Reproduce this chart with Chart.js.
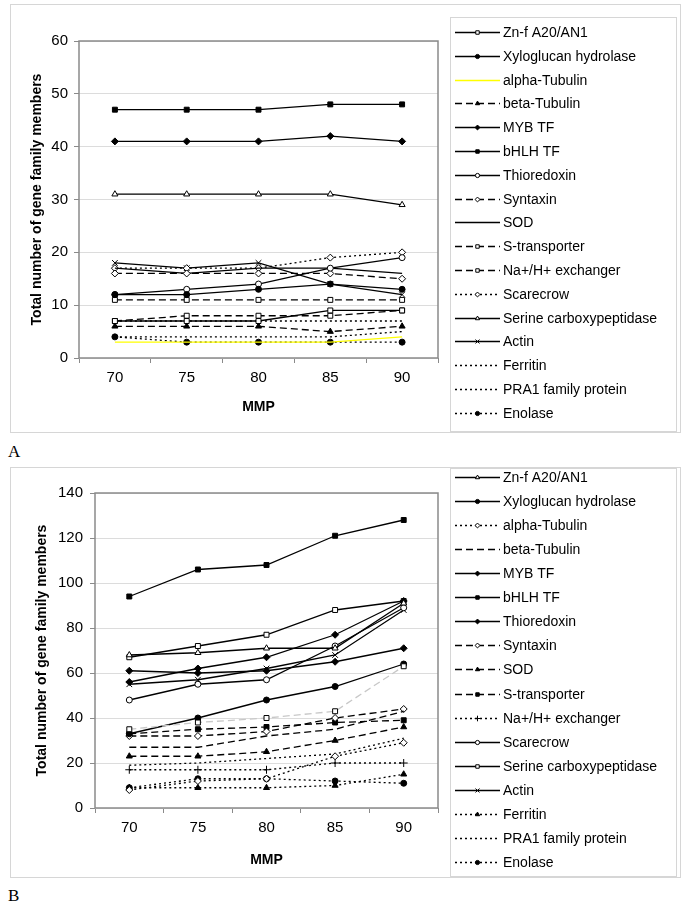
<!DOCTYPE html>
<html>
<head>
<meta charset="utf-8">
<script src="https://cdn.jsdelivr.net/npm/chart.js@4"></script>
<style>
  body { margin: 0; background: #fff; width: 685px; height: 915px; position: relative; overflow: hidden; }
  .panel { position: absolute; left: 10px; width: 669px; border: 1px solid #d6d6d6; background: #fff; }
  .tag { position: absolute; left: 8px; font: 17px "Liberation Serif", "Times New Roman", serif; color: #000; }
</style>
</head>
<body>
<div class="panel" style="top:4px;height:427px"><canvas id="chartA" width="669" height="427"></canvas></div>
<div class="tag" style="top:442px">A</div>
<div class="panel" style="top:467px;height:409px"><canvas id="chartB" width="669" height="409"></canvas></div>
<div class="tag" style="top:886px">B</div>
<script>
// x categories (MMP)
const mmp = ['70', '75', '80', '85', '90'];

// panel A values
const aZnf = [7, 7, 7, 9, 9];
const aXylo = [12, 12, 13, 14, 13];
const aAlphaTub = [3, 3, 3, 3, 4];
const aBetaTub = [6, 6, 6, 5, 6];
const aMyb = [41, 41, 41, 42, 41];
const aBhlh = [47, 47, 47, 48, 48];
const aThio = [12, 13, 14, 17, 19];
const aSyntaxin = [16, 16, 16, 16, 15];
const aSod = [17, 16, 17, 17, 16];
const aStrans = [11, 11, 11, 11, 11];
const aNaH = [7, 8, 8, 8, 9];
const aScarecrow = [17, 17, 17, 19, 20];
const aSerine = [31, 31, 31, 31, 29];
const aActin = [18, 17, 18, 14, 12];
const aFerritin = [7, 7, 7, 7, 7];
const aPra1 = [4, 4, 4, 4, 5];
const aEnolase = [4, 3, 3, 3, 3];

// panel B values
const bZnf = [68, 69, 71, 71, 91];
const bXylo = [33, 40, 48, 54, 64];
const bAlphaTub = [8, 12, 13, 23, 29];
const bBetaTub = [27, 27, 32, 35, 43];
const bMyb = [61, 60, 61, 65, 71];
const bBhlh = [94, 106, 108, 121, 128];
const bThio = [56, 62, 67, 77, 92];
const bSyntaxin = [32, 32, 34, 40, 44];
const bSod = [23, 23, 25, 30, 36];
const bStrans = [33, 35, 36, 38, 39];
const bNaH = [17, 17, 17, 20, 20];
const bScarecrow = [48, 55, 57, 72, 89];
const bSerine = [67, 72, 77, 88, 92];
const bActin = [55, 57, 62, 68, 88];
const bFerritin = [9, 9, 9, 10, 15];
const bPra1 = [19, 20, 22, 24, 31];
const bEnolase = [9, 13, 13, 12, 11];
const bGrey = [35, 38, 40, 43, 63]; // faint line, not in the legend

// y ticks
const yMaxA = 60, yStepA = 10;
const yMaxB = 140, yStepB = 20;

Chart.defaults.font.family = '"Liberation Sans", Arial, sans-serif';
Chart.defaults.color = '#000';

const SOLID = [], DASH = [7, 4], DOT = [2, 3];

// marker: [pointStyle, open?]
function line(label, data, dash, marker, color, extra) {
  const style = marker ? marker[0] : false;
  const open = marker ? marker[1] : false;
  const r = style === 'crossRot' || style === 'cross' ? 4 : (style === 'circle' ? 3 : 3.5);
  return Object.assign({
    label: label,
    data: data,
    borderColor: color || '#000',
    borderWidth: 1.3,
    borderDash: dash,
    tension: 0,
    fill: false,
    pointStyle: style || 'circle',
    pointRadius: style ? r : 0,
    pointBorderWidth: 1,
    pointBorderColor: '#000',
    pointBackgroundColor: open ? '#fff' : '#000'
  }, extra || {});
}

const sq = ['rect', true], sqF = ['rect', false], ci = ['circle', true], ciF = ['circle', false];
const di = ['rectRot', true], diF = ['rectRot', false], tr = ['triangle', true], trF = ['triangle', false];
const xx = ['crossRot', false], pl = ['cross', false];

const seriesA = [
  line('Zn-f A20/AN1', aZnf, SOLID, sq),
  line('Xyloglucan hydrolase', aXylo, SOLID, ciF),
  line('alpha-Tubulin', aAlphaTub, SOLID, null, '#ffff00'),
  line('beta-Tubulin', aBetaTub, DASH, trF),
  line('MYB TF', aMyb, SOLID, diF),
  line('bHLH TF', aBhlh, SOLID, sqF),
  line('Thioredoxin', aThio, SOLID, ci),
  line('Syntaxin', aSyntaxin, DASH, di),
  line('SOD', aSod, SOLID, null),
  line('S-transporter', aStrans, DASH, sq),
  line('Na+/H+ exchanger', aNaH, DASH, sq),
  line('Scarecrow', aScarecrow, DOT, di),
  line('Serine carboxypeptidase', aSerine, SOLID, tr),
  line('Actin', aActin, SOLID, xx),
  line('Ferritin', aFerritin, DOT, null),
  line('PRA1 family protein', aPra1, DOT, null),
  line('Enolase', aEnolase, DOT, ciF)
];

const seriesB = [
  line('', bGrey, DASH, sq, '#c8c8c8', { hideInLegend: true }),
  line('Zn-f A20/AN1', bZnf, SOLID, tr),
  line('Xyloglucan hydrolase', bXylo, SOLID, ciF),
  line('alpha-Tubulin', bAlphaTub, DOT, di),
  line('beta-Tubulin', bBetaTub, DASH, null),
  line('MYB TF', bMyb, SOLID, diF),
  line('bHLH TF', bBhlh, SOLID, sqF),
  line('Thioredoxin', bThio, SOLID, diF),
  line('Syntaxin', bSyntaxin, DASH, di),
  line('SOD', bSod, DASH, trF),
  line('S-transporter', bStrans, DASH, sqF),
  line('Na+/H+ exchanger', bNaH, DOT, pl),
  line('Scarecrow', bScarecrow, SOLID, ci),
  line('Serine carboxypeptidase', bSerine, SOLID, sq),
  line('Actin', bActin, SOLID, xx),
  line('Ferritin', bFerritin, DOT, trF),
  line('PRA1 family protein', bPra1, DOT, null),
  line('Enolase', bEnolase, DOT, ciF)
];

// frame round the plot area
const plotFrame = {
  id: 'plotFrame',
  afterDatasetsDraw(chart) {
    const a = chart.chartArea, ctx = chart.ctx;
    ctx.save();
    ctx.strokeStyle = '#8a8a8a';
    ctx.lineWidth = 1.5;
    ctx.setLineDash([]);
    ctx.strokeRect(a.left, a.top, a.right - a.left, a.bottom - a.top);
    ctx.restore();
  }
};

// legend on the right, drawn with the datasets' own styles
const sideLegend = {
  id: 'sideLegend',
  afterDraw(chart, args, o) {
    const ctx = chart.ctx;
    ctx.save();
    ctx.strokeStyle = '#d6d6d6';
    ctx.lineWidth = 1;
    ctx.setLineDash([]);
    ctx.strokeRect(o.x + 0.5, o.top + 0.5, o.w, o.h);
    let k = 0;
    chart.data.datasets.forEach(d => {
      if (d.hideInLegend) return;
      const y = Math.round(o.y0 + k * o.step) + 0.5;
      k++;
      ctx.strokeStyle = d.borderColor;
      ctx.lineWidth = d.borderWidth;
      ctx.setLineDash(d.borderDash);
      ctx.beginPath();
      ctx.moveTo(o.x + 5, y);
      ctx.lineTo(o.x + 50, y);
      ctx.stroke();
      if (d.pointRadius > 0) {
        ctx.setLineDash([]);
        ctx.fillStyle = d.pointBackgroundColor;
        ctx.strokeStyle = d.pointBorderColor;
        ctx.lineWidth = 1;
        Chart.helpers.drawPoint(ctx, { pointStyle: d.pointStyle, radius: d.pointRadius * 0.7, borderWidth: 1, rotation: 0 }, o.x + 27.5, y);
      }
      ctx.fillStyle = '#000';
      ctx.font = '14px "Liberation Sans", Arial, sans-serif';
      ctx.textBaseline = 'middle';
      ctx.fillText(d.label, o.x + 53, y + 1);
    });
    ctx.restore();
  }
};

function makeChart(id, series, yMax, yStep, yWidth, xHeight, padTop, yPad, titleSide, titleBottom, legend) {
  return new Chart(document.getElementById(id), {
    type: 'line',
    data: { labels: mmp, datasets: series },
    options: {
      responsive: false,
      animation: false,
      layout: { padding: { left: 0, right: 242, top: padTop, bottom: 0 } },
      plugins: { legend: { display: false }, tooltip: { enabled: false }, sideLegend: legend },
      scales: {
        x: {
          offset: true,
          grid: { offset: true, drawOnChartArea: false, tickLength: 5, tickColor: '#8a8a8a' },
          border: { display: false },
          ticks: { font: { size: 15 }, padding: 6, maxRotation: 0 },
          title: { display: true, text: 'MMP', font: { size: 14, weight: 'bold' }, padding: { top: 0, bottom: titleBottom } },
          afterFit: s => { s.height = xHeight; }
        },
        y: {
          min: 0,
          max: yMax,
          ticks: { stepSize: yStep, font: { size: 15 }, padding: yPad },
          grid: { color: '#dcdcdc', tickColor: '#8a8a8a', tickLength: 5 },
          border: { display: false },
          title: { display: true, text: 'Total number of gene family members', font: { size: 14, weight: 'bold' }, padding: { top: titleSide, bottom: 0 } },
          afterFit: s => { s.width = yWidth; }
        }
      }
    },
    plugins: [plotFrame, sideLegend]
  });
}

makeChart('chartA', seriesA, yMaxA, yStepA, 68, 74, 36, 6, 18, 16,
  { x: 439, top: 12, w: 226, h: 414, y0: 27, step: 23.8 });
makeChart('chartB', seriesB, yMaxB, yStepB, 84, 69, 25, 7, 23, 8,
  { x: 439, top: 0, w: 226, h: 408, y0: 9, step: 24.06 });
</script>
</body>
</html>
